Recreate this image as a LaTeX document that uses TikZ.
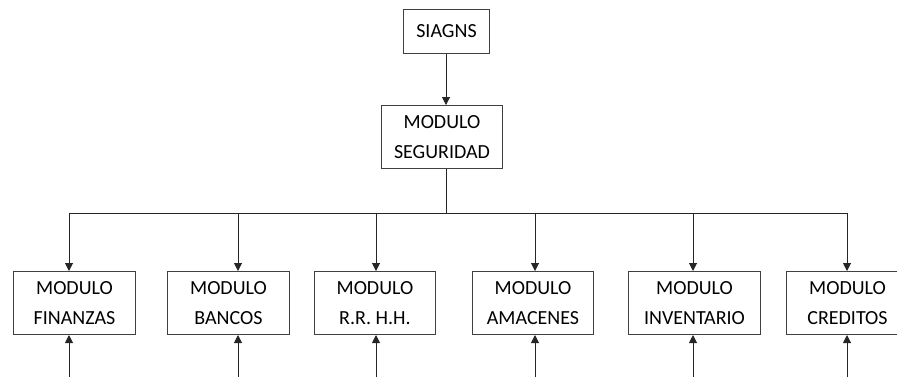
\documentclass[tikz,border=0pt]{standalone}
\usepackage{fontspec}
\setmainfont{Carlito}
\usetikzlibrary{arrows.meta}
\begin{document}
\begin{tikzpicture}[x=1pt,y=-1pt,
  modbox/.style={draw=black!75, line width=1pt, fill=white, inner sep=0pt,
    font=\fontsize{20}{30}\selectfont, align=center, anchor=north west},
  link/.style={draw=black!85, line width=1pt, -{Triangle[length=8pt,width=8pt]}},
  wire/.style={draw=black!85, line width=1pt}]
\useasboundingbox (0,0) rectangle (897,376);
\clip (0,0) rectangle (897,376);

% root and security module
\node[modbox, minimum width=86pt, minimum height=44pt] (root) at (403,9) {SIAGNS};
\node[modbox, minimum width=121pt, minimum height=63pt] (seg) at (381,105) {MODULO\\SEGURIDAD};

% bottom row of modules
\node[modbox, minimum width=122pt, minimum height=63pt] (fin) at (13,271) {MODULO\\FINANZAS};
\node[modbox, minimum width=122pt, minimum height=63pt] (ban) at (167,271) {MODULO\\BANCOS};
\node[modbox, minimum width=121pt, minimum height=63pt] (rrhh) at (314,271) {MODULO\\R.R. H.H.};
\node[modbox, minimum width=121pt, minimum height=63pt] (ama) at (472,271) {MODULO\\AMACENES};
\node[modbox, minimum width=132pt, minimum height=63pt] (inv) at (628,271) {MODULO\\INVENTARIO};
\node[modbox, minimum width=124pt, minimum height=63pt, anchor=north west] (cre) at (786,271) {\hspace*{-2pt}MODULO\\CREDITOS\hspace*{2pt}};

% distribution bus
\coordinate (bus) at (446,213);
\coordinate (busL) at (69,213);
\coordinate (busR) at (847,213);
\draw[link] (root.south -| bus) -- (seg.north -| bus);
\draw[wire] (seg.south -| bus) -- (bus);
\draw[wire] (busL) -- (busR);
\foreach \n/\x in {fin/69, ban/238, rrhh/376, ama/535, inv/693, cre/847}{
  \coordinate (top\n) at (\x,213);
  \coordinate (low\n) at (\x,380);
  \draw[link] (top\n) -- (\n.north -| top\n);
  \draw[link] (low\n) -- (\n.south -| low\n);
}
\end{tikzpicture}
\end{document}
